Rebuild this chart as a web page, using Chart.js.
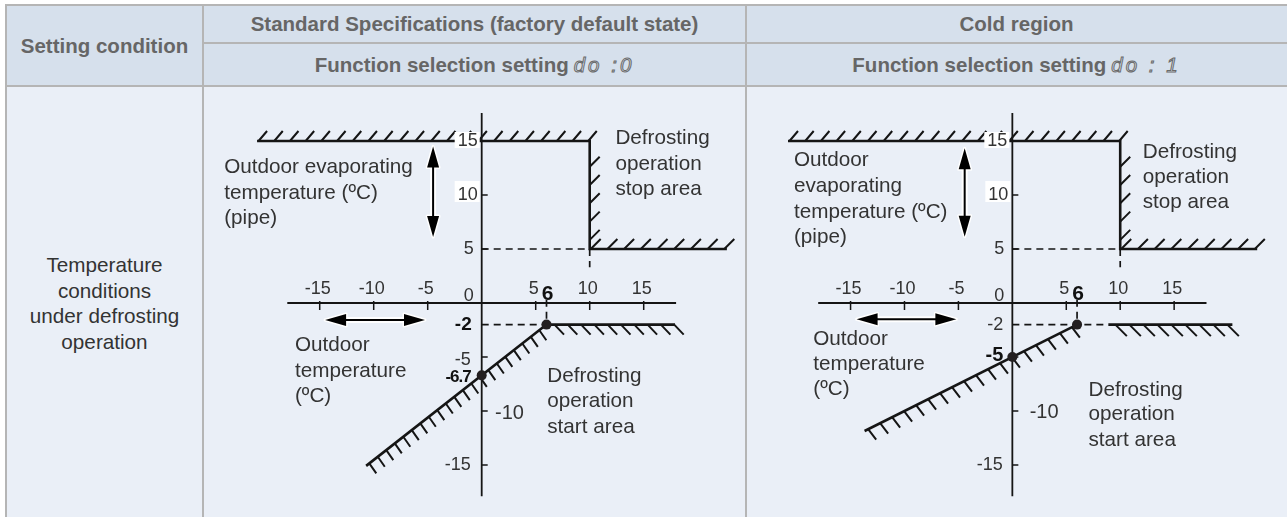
<!DOCTYPE html>
<html><head><meta charset="utf-8">
<script src="https://cdn.jsdelivr.net/npm/chart.js@4"></script>
<style>
html,body{margin:0;padding:0;background:#fff;}
#wrap{position:relative;width:1287px;height:517px;overflow:hidden;font-family:"Liberation Sans",Arial,sans-serif;}
.bg{position:absolute;}
.hl{position:absolute;background:#b5b5b5;}
.ht{position:absolute;color:#666;font-weight:bold;font-size:20.5px;white-space:nowrap;text-align:center;}
.seg{font-style:italic;font-weight:normal;color:transparent;-webkit-text-stroke:1px #6a6a6a;letter-spacing:3px;margin-left:5px;}
.bt{position:absolute;color:#333;font-size:20.7px;text-align:center;line-height:25.7px;}
canvas{position:absolute;left:0;top:0;}
</style></head>
<body><div id="wrap">
<div class="bg" style="left:6px;top:5px;width:1281px;height:81px;background:#d6e0ec"></div>
<div class="bg" style="left:6px;top:86px;width:1281px;height:431px;background:#eaeff7"></div>
<div class="hl" style="left:5px;top:4px;width:1282px;height:2px"></div>
<div class="hl" style="left:203px;top:42px;width:1084px;height:2px"></div>
<div class="hl" style="left:5px;top:85px;width:1282px;height:2px"></div>
<div class="hl" style="left:5px;top:4px;width:2px;height:513px"></div>
<div class="hl" style="left:202px;top:4px;width:2px;height:513px"></div>
<div class="hl" style="left:745px;top:4px;width:2px;height:513px"></div>
<div class="ht" style="left:6px;width:197px;top:5px;height:81px;line-height:81px">Setting condition</div>
<div class="ht" style="left:203px;width:543px;top:5px;height:38px;line-height:38px">Standard Specifications (factory default state)</div>
<div class="ht" style="left:746px;width:541px;top:5px;height:38px;line-height:38px">Cold region</div>
<div class="ht" style="left:203px;width:543px;top:43px;height:43px;line-height:43px">Function selection setting<span class="seg">do :0</span></div>
<div class="ht" style="left:746px;width:541px;top:43px;height:43px;line-height:43px">Function selection setting<span class="seg">do : 1</span></div>
<div class="bt" style="left:6px;width:197px;top:252px">Temperature<br>conditions<br>under defrosting<br>operation</div>
<canvas id="cStd" width="1287" height="517"></canvas>
<canvas id="cCold" width="1287" height="517"></canvas>
</div>
<script>
// ---------- data ----------
const xTicks = [-15, -10, -5, 5, 10, 15];
const yTicks = [15, 10, 5, -5, -10, -15];
const xAxisRange = [-18, 18];
const yAxisRange = [-17.9, 17.6];

// Standard specifications (do:0)
const stdStopLine  = [[-20.8, 15], [10, 15], [10, 5], [22.7, 5]];
const stdStartLine = [[-10.7, -15.08], [6, -2], [17.9, -2]];
const stdPoints    = [[6, -2], [0, -6.7]];
const stdDashed    = [[[0, 5], [10, 5]], [[10, 5], [10, 3.3]], [[0, -2], [6, -2]], [[6, 0.3], [6, -2]]];
const stdArrowV    = [[-4.5, 14.5], [-4.5, 6.1]];
const stdArrowH    = [[-14.5, -1.57], [-5.25, -1.57]];

// Cold region (do:1)
const coldStopLine   = [[-20.8, 15], [10, 15], [10, 5], [22.7, 5]];
const coldStartLine  = [[-13.7, -11.85], [6, -2]];
const coldStartLine2 = [[8.9, -2], [20.4, -2]];
const coldPoints     = [[6, -2], [0, -5]];
const coldDashed     = [[[0, 5], [10, 5]], [[10, 5], [10, 3.3]], [[0, -2], [8.9, -2]], [[6, 0.3], [6, -2]]];
const coldArrowV     = [[-4.42, 14.32], [-4.42, 6.14]];
const coldArrowH     = [[-14.44, -1.51], [-5.19, -1.51]];

// ---------- layout / style ----------
const FONT = '"Liberation Sans", Arial, sans-serif';
const INK = '#151515';
const TXT = '#333';

const stdCfg = {
  ox: 481.7,
  stop: stdStopLine, starts: [stdStartLine], points: stdPoints, dashed: stdDashed,
  arrows: [stdArrowV, stdArrowH],
  hatches: [
    {line: stdStopLine, seg: 0, step: 15.7, off: 1.5, dx: 8.5, dy: -10},
    {line: stdStopLine, seg: 1, step: 18.3, off: 25.7, dx: 10, dy: -10, max: 5},
    {line: stdStopLine, seg: 2, step: 16.7, off: 1, dx: 10, dy: -10},
    {line: stdStartLine, seg: 0, step: 10.8, off: 4, dx: 7, dy: 10},
    {line: stdStartLine, seg: 1, step: 13.3, off: 8, dx: 9.5, dy: 10}
  ],
  yLabels: [
    {v: 15, t: '15', dx: -4, box: [-9, 7]},
    {v: 10, t: '10', dx: -4, box: [-14, 7]},
    {v: 5, t: '5', dx: -8},
    {v: -2, t: '-2', dx: -10, bold: true, size: 19},
    {v: -5, t: '-5', dx: -11, dy: 3},
    {v: -6.7, t: '-6.7', dx: -11, dy: 2, bold: true, size: 17, ls: -1},
    {v: -10, t: '-10', dx: 13.3, dy: 2, left: true, size: 20},
    {v: -15, t: '-15', dx: -11}
  ],
  texts: [
    {x: -23.84, y: 12.04, t: 'Outdoor evaporating'},
    {x: -23.84, y: 9.63, t: 'temperature (ºC)'},
    {x: -23.84, y: 7.35, t: '(pipe)'},
    {x: 12.38, y: 14.72, t: 'Defrosting'},
    {x: 12.38, y: 12.31, t: 'operation'},
    {x: 12.38, y: 9.97, t: 'stop area'},
    {x: -17.29, y: -4.44, t: 'Outdoor'},
    {x: -17.29, y: -6.82, t: 'temperature'},
    {x: -17.29, y: -9.14, t: '(ºC)'},
    {x: 6.07, y: -7.29, t: 'Defrosting'},
    {x: 6.07, y: -9.66, t: 'operation'},
    {x: 6.07, y: -12.01, t: 'start area'}
  ]
};

const coldCfg = {
  ox: 1012.7,
  stop: coldStopLine, starts: [coldStartLine, coldStartLine2], points: coldPoints, dashed: coldDashed,
  arrows: [coldArrowV, coldArrowH],
  hatches: [
    {line: coldStopLine, seg: 0, step: 15.7, off: 1.5, dx: 8.5, dy: -10},
    {line: coldStopLine, seg: 1, step: 18.3, off: 25.7, dx: 10, dy: -10, max: 5},
    {line: coldStopLine, seg: 2, step: 16.7, off: 1, dx: 10, dy: -10},
    {line: coldStartLine, seg: 0, step: 13.4, off: 4, dx: 8, dy: 10.5},
    {line: coldStartLine2, seg: 0, step: 14, off: 7, dx: 11.5, dy: 11.5}
  ],
  yLabels: [
    {v: 15, t: '15', dx: -5, box: [-9, 7]},
    {v: 10, t: '10', dx: -4, box: [-14, 7]},
    {v: 5, t: '5', dx: -8},
    {v: -2, t: '-2', dx: -9},
    {v: -5, t: '-5', dx: -9, dy: -1.5, bold: true, size: 20},
    {v: -10, t: '-10', dx: 17.3, dy: 1.5, left: true, size: 20},
    {v: -15, t: '-15', dx: -9.5}
  ],
  texts: [
    {x: -20.25, y: 12.69, t: 'Outdoor'},
    {x: -20.25, y: 10.31, t: 'evaporating'},
    {x: -20.25, y: 7.9, t: 'temperature (ºC)'},
    {x: -20.25, y: 5.6, t: '(pipe)'},
    {x: 12.09, y: 13.45, t: 'Defrosting'},
    {x: 12.09, y: 11.08, t: 'operation'},
    {x: 12.09, y: 8.77, t: 'stop area'},
    {x: -18.46, y: -3.89, t: 'Outdoor'},
    {x: -18.46, y: -6.2, t: 'temperature'},
    {x: -18.46, y: -8.52, t: '(ºC)'},
    {x: 7.06, y: -8.61, t: 'Defrosting'},
    {x: 7.06, y: -10.83, t: 'operation'},
    {x: 7.06, y: -13.21, t: 'start area'}
  ]
};

function drawArrow(ctx, x1, y1, x2, y2, color, w, hl, hw, halo) {
  const ang = Math.atan2(y2 - y1, x2 - x1), L = Math.hypot(x2 - x1, y2 - y1);
  ctx.save();
  ctx.translate(x1, y1); ctx.rotate(ang);
  ctx.strokeStyle = color; ctx.fillStyle = color;
  ctx.lineJoin = 'round';
  ctx.beginPath(); ctx.moveTo(hl - 2, 0); ctx.lineTo(L - hl + 2, 0);
  ctx.lineWidth = w + (halo ? 4 : 0); ctx.stroke();
  ctx.beginPath();
  ctx.moveTo(0, 0); ctx.lineTo(hl, -hw); ctx.lineTo(hl, hw); ctx.closePath();
  ctx.moveTo(L, 0); ctx.lineTo(L - hl, -hw); ctx.lineTo(L - hl, hw); ctx.closePath();
  ctx.fill();
  if (halo) { ctx.lineWidth = 3; ctx.stroke(); }
  ctx.restore();
}

const diagramPlugin = {
  id: 'diagram',
  beforeDatasetsDraw(chart, args, o) {
    const ctx = chart.ctx, X = chart.scales.x, Y = chart.scales.y;
    const px = v => X.getPixelForValue(v), py = v => Y.getPixelForValue(v);
    ctx.save();
    ctx.strokeStyle = INK; ctx.lineCap = 'butt';
    // axes
    ctx.lineWidth = 1.8;
    ctx.beginPath();
    ctx.moveTo(px(xAxisRange[0]), py(0)); ctx.lineTo(px(xAxisRange[1]), py(0));
    ctx.moveTo(px(0), py(yAxisRange[1])); ctx.lineTo(px(0), py(yAxisRange[0]));
    ctx.stroke();
    ctx.lineWidth = 1.5;
    ctx.beginPath();
    xTicks.forEach(t => { ctx.moveTo(px(t), py(0) - 2); ctx.lineTo(px(t), py(0) + 7); });
    yTicks.forEach(t => { ctx.moveTo(px(0), py(t)); ctx.lineTo(px(0) + 6, py(t)); });
    ctx.stroke();
    // hatching
    ctx.lineWidth = 2;
    ctx.beginPath();
    o.hatches.forEach(h => {
      const a = h.line[h.seg], b = h.line[h.seg + 1];
      const ax = px(a[0]), ay = py(a[1]), bx = px(b[0]), by = py(b[1]);
      const L = Math.hypot(bx - ax, by - ay);
      let n = 0;
      for (let d = h.off; d <= L + 0.5; d += h.step) {
        if (h.max && n >= h.max) break;
        const x = ax + (bx - ax) * d / L, y = ay + (by - ay) * d / L;
        ctx.moveTo(x, y); ctx.lineTo(x + h.dx, y + h.dy);
        n++;
      }
    });
    ctx.stroke();
    ctx.restore();
  },
  afterDatasetsDraw(chart, args, o) {
    const ctx = chart.ctx, X = chart.scales.x, Y = chart.scales.y;
    const px = v => X.getPixelForValue(v), py = v => Y.getPixelForValue(v);
    const ox = px(0), oy = py(0);
    ctx.save();
    ctx.fillStyle = TXT;
    // x tick labels
    ctx.font = '18px ' + FONT;
    ctx.textAlign = 'center'; ctx.textBaseline = 'alphabetic';
    xTicks.forEach(t => ctx.fillText(String(t), px(t) - 2, oy - 9));
    ctx.fillText('0', ox - 13, oy - 2);
    ctx.font = 'bold 21px ' + FONT;
    ctx.fillStyle = '#111';
    ctx.fillText(String(o.points[0][0]), px(o.points[0][0]) + 1, oy - 3);
    // y tick labels
    ctx.textBaseline = 'middle';
    o.yLabels.forEach(l => {
      ctx.font = (l.bold ? 'bold ' : '') + (l.size || 18) + 'px ' + FONT;
      ctx.letterSpacing = (l.ls || 0) + 'px';
      ctx.textAlign = l.left ? 'left' : 'right';
      const x = ox + l.dx, y = py(l.v) + (l.dy || 0);
      if (l.box) {
        const w = ctx.measureText(l.t).width;
        ctx.fillStyle = '#fff';
        ctx.fillRect(x - w - 3, py(l.v) + l.box[0], w + 5, l.box[1] - l.box[0]);
      }
      ctx.fillStyle = l.bold ? '#111' : TXT;
      ctx.fillText(l.t, x, y);
    });
    ctx.letterSpacing = '0px';
    // annotation texts
    ctx.font = '20.7px ' + FONT;
    ctx.fillStyle = TXT; ctx.textAlign = 'left'; ctx.textBaseline = 'alphabetic';
    o.texts.forEach(t => ctx.fillText(t.t, px(t.x), py(t.y)));
    // arrows
    o.arrows.forEach(a => {
      const x1 = px(a[0][0]), y1 = py(a[0][1]), x2 = px(a[1][0]), y2 = py(a[1][1]);
      drawArrow(ctx, x1, y1, x2, y2, '#fff', 2, 21, 6, true);
      drawArrow(ctx, x1, y1, x2, y2, '#000', 2, 21, 6, false);
    });
    ctx.restore();
  }
};

const toXY = arr => arr.map(p => ({x: p[0], y: p[1]}));

function makeChart(id, cfg) {
  const s = 10.8, oy = 303;
  const ds = [];
  ds.push({data: toXY(cfg.points), showLine: false, pointRadius: 5, pointBackgroundColor: '#231f20',
           pointBorderWidth: 0, clip: false, order: 0});
  ds.push({data: toXY(cfg.stop), showLine: true, borderColor: INK, borderWidth: 2.6, pointRadius: 0,
           clip: false, order: 1, borderJoinStyle: 'miter'});
  cfg.starts.forEach(l => ds.push({data: toXY(l), showLine: true, borderColor: INK, borderWidth: 2.6,
           pointRadius: 0, clip: false, order: 1, borderJoinStyle: 'miter'}));
  cfg.dashed.forEach(l => ds.push({data: toXY(l), showLine: true, borderColor: INK, borderWidth: 1.7,
           borderDash: [7, 5], pointRadius: 0, clip: false, order: 2}));
  new Chart(document.getElementById(id), {
    type: 'scatter',
    data: {datasets: ds},
    options: {
      responsive: false, animation: false, devicePixelRatio: 1, events: [],
      layout: {padding: {left: cfg.ox - 25 * s, right: 1287 - (cfg.ox + 25 * s), top: oy - 20 * s, bottom: 517 - (oy + 19 * s)}},
      scales: {
        x: {type: 'linear', min: -25, max: 25, display: false},
        y: {type: 'linear', min: -19, max: 20, display: false}
      },
      plugins: {legend: {display: false}, tooltip: {enabled: false}, diagram: cfg}
    },
    plugins: [diagramPlugin]
  });
}
makeChart('cStd', stdCfg);
makeChart('cCold', coldCfg);
</script>
</body></html>
